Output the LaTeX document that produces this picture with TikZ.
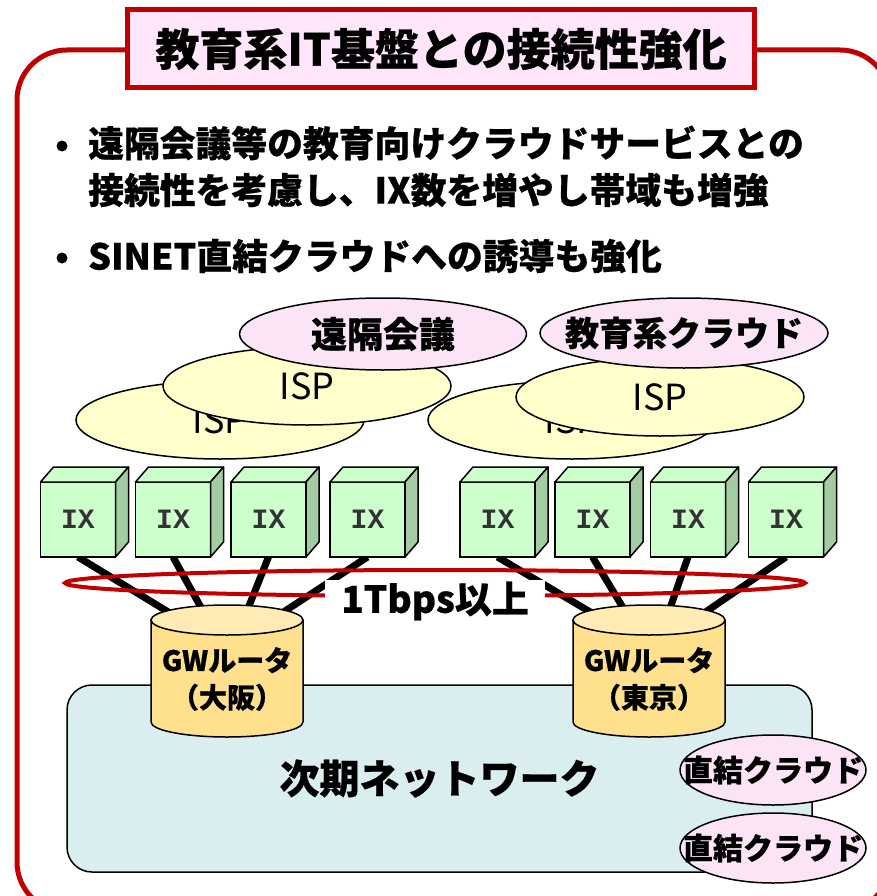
\documentclass[tikz,border=0pt]{standalone}
\usepackage{fontspec}
\setmainfont{Noto Sans CJK JP}[BoldFeatures={FakeBold=0.6}]
\newfontfamily\ixfont{Liberation Mono}
\usetikzlibrary{shapes.geometric,backgrounds,calc}

\definecolor{framered}{HTML}{C00000}
\definecolor{titlepink}{HTML}{FFE6FA}
\definecolor{cloudpink}{HTML}{FCE4F7}
\definecolor{ispyellow}{HTML}{FFFFCC}
\definecolor{ixgreen}{HTML}{CCFFCC}
\definecolor{ixshade}{HTML}{A3CCA3}
\definecolor{ixtext}{HTML}{333333}
\definecolor{gwbody}{HTML}{FFE08C}
\definecolor{gwtop}{HTML}{FFEBB3}
\definecolor{netblue}{HTML}{DAEDEF}

\newcommand{\ovaltext}[1]{\makebox[0pt]{#1}}

\begin{document}
\begin{tikzpicture}[x=1pt,y=-1pt]

\tikzset{
  OuterFrame/.style = {draw=framered, line width=5pt, rounded corners=50pt},
  TitleStyle/.style = {rectangle, draw=framered, line width=5pt, fill=titlepink,
                       minimum width=627pt, minimum height=78pt,
                       font = \fontsize{44}{48}\selectfont\bfseries},
  BulletStyle/.style = {circle, fill=black, inner sep=0pt, minimum size=11pt},
  LineStyle/.style = {anchor=west, inner sep=0pt,
                      font = \fontsize{35.8}{40}\selectfont\bfseries},
  ISPStyle/.style = {ellipse, draw, line width=1.5pt, fill=ispyellow, inner sep=0pt,
                     minimum width=288pt, minimum height=78pt,
                     font = \fontsize{36}{40}\selectfont},
  CloudStyle/.style = {ellipse, draw, line width=1.5pt, fill=cloudpink, inner sep=0pt},
  IXStyle/.style = {rectangle, draw, line width=1.5pt, fill=ixgreen, outer sep=0pt,
                    minimum width=75pt, minimum height=75pt, text=ixtext,
                    font = \fontsize{28}{30}\selectfont\ixfont\bfseries},
  IXTop/.style = {draw, line width=1.5pt, fill=ixgreen, line join=round},
  IXSide/.style = {draw, line width=1.5pt, fill=ixshade, line join=round},
  GWBody/.style = {draw, line width=1.5pt, fill=gwbody},
  GWEnd/.style = {draw, line width=1.5pt, fill=gwtop},
  GWText/.style = {align=center, inner sep=0pt,
                   font = \fontsize{28}{37}\selectfont\bfseries},
  NetStyle/.style = {rectangle, rounded corners=25pt, draw, line width=1.5pt,
                     fill=netblue, minimum width=745pt, minimum height=187pt,
                     font = \fontsize{40}{44}\selectfont\bfseries},
  TrunkStyle/.style = {line width=7pt},
  RingStyle/.style = {ellipse, draw=framered, line width=4pt, inner sep=0pt,
                      minimum width=740pt, minimum height=26pt},
  RateStyle/.style = {fill=white, inner xsep=16pt, inner ysep=2pt,
                      font = \fontsize{37}{40}\selectfont\bfseries}
}

  \useasboundingbox (0,0) rectangle (877,896);
  \clip (0,0) rectangle (877,896);

  \draw[OuterFrame] (17,50) rectangle (890,912);
  \node[TitleStyle] (title) at (441,49) {教育系IT基盤との接続性強化};

  % bullets
  \node[BulletStyle] (dota) at (62,146) {};
  \node[LineStyle] (linea) at (88,143) {遠隔会議等の教育向けクラウドサービスとの};
  \node[LineStyle] (lineb) at (88,190) {接続性を考慮し、IX数を増やし帯域も増強};
  \node[BulletStyle] (dotb) at (62,258) {};
  \node[LineStyle] (linec) at (88,256) {SINET直結クラウドへの誘導も強化};

  % ISP and clouds
  \node[ISPStyle] (ispa) at (220,420) {ISP};
  \node[ISPStyle] (ispb) at (307,386) {ISP};
  \node[CloudStyle, minimum width=287pt, minimum height=72pt,
        font=\fontsize{36}{40}\selectfont\bfseries] (meeting) at (383,334) {\ovaltext{遠隔会議}};

  \node[ISPStyle] (ispc) at (572,420) {ISP};
  \node[ISPStyle] (ispd) at (660,397) {ISP};
  \node[CloudStyle, minimum width=288pt, minimum height=70pt,
        font=\fontsize{34}{38}\selectfont\bfseries] (educloud) at (684,333) {\ovaltext{教育系クラウド}};

  % IX
  \node[IXStyle] (ixa) at (78,519.5) {IX};
  \node[IXStyle] (ixb) at (173,519.5) {IX};
  \node[IXStyle] (ixc) at (268.5,519.5) {IX};
  \node[IXStyle] (ixd) at (367.5,519.5) {IX};
  \node[IXStyle] (ixe) at (497.5,519.5) {IX};
  \node[IXStyle] (ixf) at (592.5,519.5) {IX};
  \node[IXStyle] (ixg) at (688,519.5) {IX};
  \node[IXStyle] (ixh) at (786,519.5) {IX};
  \foreach \n in {ixa,ixb,ixc,ixd,ixe,ixf,ixg,ixh}{
    \filldraw[IXTop] (\n.north west) -- ++(13,-15) -- ++(75,0) -- (\n.north east) -- cycle;
    \filldraw[IXSide] (\n.north east) -- ++(13,-15) -- ++(0,75) -- (\n.south east) -- cycle;
  }

  % GW routers
  \foreach \cx in {227,649}{
    \filldraw[GWBody] (\cx-76,620) -- (\cx-76,722)
      arc[start angle=180, end angle=0, x radius=76, y radius=15] -- (\cx+76,620) -- cycle;
    \filldraw[GWEnd] (\cx,620) ellipse[x radius=76, y radius=15];
  }
  \node[GWText] (gwosaka) at (227,679) {GWルータ\\（大阪）};
  \node[GWText] (gwtokyo) at (649,679) {GWルータ\\（東京）};

  \begin{pgfonlayer}{background}
    \node[NetStyle] (nextnet) at (439.5,778.5) {次期ネットワーク};
    \draw[TrunkStyle] (ixa.south) -- ($(gwosaka)+(-57,-66)$);
    \draw[TrunkStyle] (ixb.south) -- ($(gwosaka)+(-24,-68)$);
    \draw[TrunkStyle] (ixc.south) -- ($(gwosaka)+(20,-68)$);
    \draw[TrunkStyle] (ixd.south) -- ($(gwosaka)+(55,-66)$);
    \draw[TrunkStyle] (ixe.south) -- ($(gwtokyo)+(-57,-66)$);
    \draw[TrunkStyle] (ixf.south) -- ($(gwtokyo)+(-24,-68)$);
    \draw[TrunkStyle] (ixg.south) -- ($(gwtokyo)+(20,-68)$);
    \draw[TrunkStyle] (ixh.south) -- ($(gwtokyo)+(55,-66)$);
  \end{pgfonlayer}

  \node[RingStyle] (ring) at (435,583) {};
  \node[RateStyle] (rate) at (435,601) {1Tbps以上};

  % direct clouds
  \node[CloudStyle, minimum width=186pt, minimum height=70pt,
        font=\fontsize{30}{32}\selectfont\bfseries] (directa) at (773,770) {\ovaltext{直結クラウド}};
  \node[CloudStyle, minimum width=186pt, minimum height=70pt,
        font=\fontsize{30}{32}\selectfont\bfseries] (directb) at (773,848) {\ovaltext{直結クラウド}};

\end{tikzpicture}
\end{document}
